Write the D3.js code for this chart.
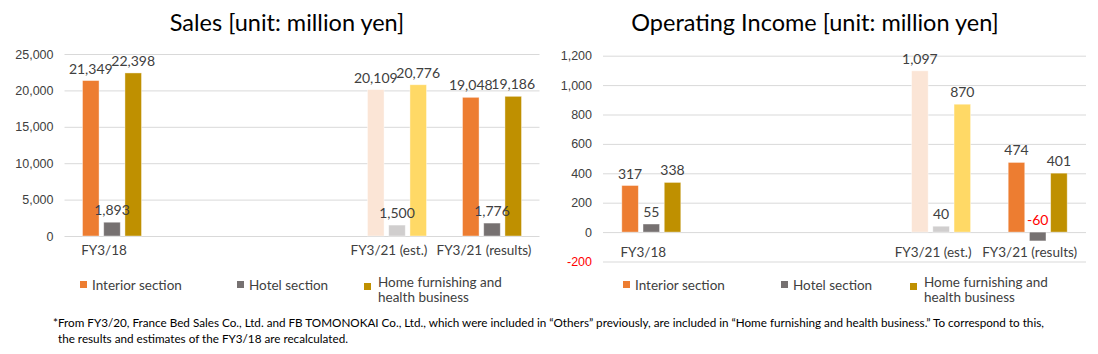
<!DOCTYPE html>
<html>
<head>
<meta charset="utf-8">
<script src="https://cdn.jsdelivr.net/npm/d3@7"></script>
<style>
  body { margin: 0; background: #fff; }
  svg { font-family: Lato, "Open Sans", sans-serif; }
</style>
</head>
<body>
<script>
var w = 1098;
var h = 354;

// categories (two middle years have no bars)
var categories = ["FY3/18", "FY3/19", "FY3/20", "FY3/21 (est.)", "FY3/21 (results)"];
var categoryLabels = ["FY3/18", "", "", "FY3/21 (est.)", "FY3/21 (results)"];
var seriesNames = ["Interior section", "Hotel section", "Home furnishing and health business"];

// Sales [million yen]
var salesInterior = [21349, null, null, 20109, 19048];
var salesHotel = [1893, null, null, 1500, 1776];
var salesHome = [22398, null, null, 20776, 19186];
var salesTicks = [0, 5000, 10000, 15000, 20000, 25000];

// Operating income [million yen]
var incomeInterior = [317, null, null, 1097, 474];
var incomeHotel = [55, null, null, 40, -60];
var incomeHome = [338, null, null, 870, 401];
var incomeTicks = [-200, 0, 200, 400, 600, 800, 1000, 1200];

var mainColors = ["#ED7D31", "#767171", "#BF9000"];
var estColors = ["#FBE5D6", "#D0CECE", "#FFD966"];
var estIndex = 3;

// plain hyphen for negatives, like the original
var fmt = d3.formatLocale({
    decimal: ".", thousands: ",", grouping: [3], currency: ["", ""], minus: "-"
}).format(",");

var svg = d3.select("body")
            .append("svg")
            .attr("width", w)
            .attr("height", h);

function drawChart(opt) {
    var series = [opt.interior, opt.hotel, opt.home];

    var xScale = d3.scaleBand()
                   .domain(categories)
                   .range([opt.x0, opt.x1])
                   .padding(0);

    var half = 29.5;
    var xInner = d3.scaleBand()
                   .domain([0, 1, 2])
                   .range([-half, half])
                   .paddingInner(0.22)
                   .paddingOuter(0);

    var yScale = d3.scaleLinear()
                   .domain(opt.domain)
                   .range(opt.yRange);

    var g = svg.append("g");

    // title
    g.append("text")
     .attr("x", opt.titleX)
     .attr("y", 31)
     .attr("text-anchor", "middle")
     .attr("font-size", "23.5px")
     .attr("fill", "#000")
     .text(opt.title);

    // gridlines
    var yAxis = d3.axisLeft(yScale)
                  .tickValues(opt.ticks)
                  .tickSize(-(opt.x1 - opt.x0))
                  .tickPadding(11)
                  .tickFormat(fmt);

    var ay = g.append("g")
              .attr("transform", "translate(" + opt.x0 + ",0)")
              .call(yAxis);
    ay.select(".domain").remove();
    ay.selectAll("line").attr("stroke", "#D9D9D9");
    ay.selectAll("text")
      .attr("font-size", "12.5px")
      .attr("fill", function(d) { return d < 0 ? "#FF0000" : "#404040"; });

    // category labels
    var y0 = yScale(0);
    g.selectAll(".cat")
     .data(categories)
     .enter()
     .append("text")
     .attr("x", function(d) { return xScale(d) + xScale.bandwidth() / 2 - 8; })
     .attr("y", y0 + opt.catDy)
     .attr("text-anchor", "middle")
     .attr("font-size", "13.5px")
     .attr("fill", "#404040")
     .text(function(d, i) { return categoryLabels[i]; });

    // bars
    var allPts = [];
    series.forEach(function(values, s) {
        var pts = categories.map(function(c, i) {
            return { cat: c, i: i, s: s, v: values[i] };
        }).filter(function(d) { return d.v !== null; });
        allPts = allPts.concat(pts);
    });

    g.selectAll(".bar")
     .data(allPts)
     .enter()
     .append("rect")
     .attr("x", function(d) {
         return xScale(d.cat) + xScale.bandwidth() / 2 + xInner(d.s);
     })
     .attr("width", xInner.bandwidth())
     .attr("y", function(d) { return Math.min(yScale(d.v), y0); })
     .attr("height", function(d) { return Math.abs(yScale(d.v) - y0); })
     .attr("fill", function(d) {
         return d.i === estIndex ? estColors[d.s] : mainColors[d.s];
     })
     .attr("stroke", "#fff")
     .attr("stroke-opacity", 0.5)
     .attr("stroke-width", 0.8);

    // data labels, drawn after all bars
    g.selectAll(".lab")
     .data(allPts)
     .enter()
     .append("text")
     .attr("x", function(d) {
         return xScale(d.cat) + xScale.bandwidth() / 2 + xInner(d.s) + xInner.bandwidth() / 2;
     })
     .attr("y", function(d) {
         return (d.v < 0 ? y0 : yScale(d.v)) - 7;
     })
     .attr("text-anchor", "middle")
     .attr("font-size", "14px")
     .attr("fill", function(d) { return d.v < 0 ? "#FF0000" : "#404040"; })
     .text(function(d) { return fmt(d.v); });

    // legend
    var lg = g.append("g");
    opt.legendX.forEach(function(lx, s) {
        lg.append("rect")
          .attr("x", lx)
          .attr("y", s === 2 ? 283 : 281)
          .attr("width", 7)
          .attr("height", 7)
          .attr("fill", mainColors[s]);
        if (s === 2) {
            lg.append("text")
              .attr("x", lx + 14).attr("y", 287)
              .attr("font-size", "13.5px").attr("fill", "#404040")
              .text("Home furnishing and");
            lg.append("text")
              .attr("x", lx + 14).attr("y", 302)
              .attr("font-size", "13.5px").attr("fill", "#404040")
              .text("health business");
        } else {
            lg.append("text")
              .attr("x", lx + 12).attr("y", 290)
              .attr("font-size", "13.5px").attr("fill", "#404040")
              .text(seriesNames[s]);
        }
    });
}

drawChart({
    title: "Sales [unit: million yen]",
    titleX: 287,
    x0: 64.5, x1: 539.5,
    domain: [0, 25000],
    yRange: [236, 54],
    ticks: salesTicks,
    interior: salesInterior, hotel: salesHotel, home: salesHome,
    catDy: 19,
    legendX: [80, 237, 364]
});

drawChart({
    title: "Operating Income [unit: million yen]",
    titleX: 815,
    x0: 603, x1: 1086,
    domain: [-200, 1200],
    yRange: [261.5, 55.7],
    ticks: incomeTicks,
    interior: incomeInterior, hotel: incomeHotel, home: incomeHome,
    catDy: 25,
    legendX: [623, 781, 910]
});

// footnote
var note = svg.append("text")
              .attr("font-size", "11.7px")
              .attr("fill", "#000");
note.append("tspan")
    .attr("x", 53).attr("y", 327)
    .text("*From FY3/20, France Bed Sales Co., Ltd. and FB TOMONOKAI Co., Ltd., which were included in \u201cOthers\u201d previously, are included in \u201cHome furnishing and health business.\u201d To correspond to this,");
note.append("tspan")
    .attr("x", 58).attr("y", 343)
    .text("the results and estimates of the FY3/18 are recalculated.");
</script>
</body>
</html>
